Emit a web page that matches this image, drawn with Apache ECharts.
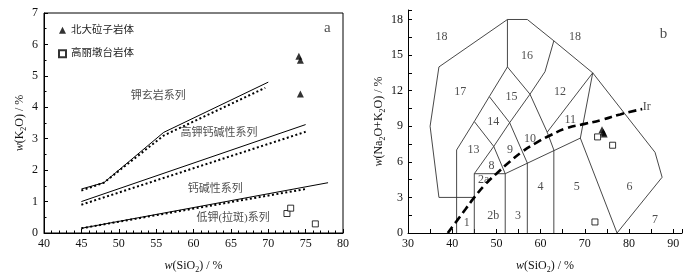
<!DOCTYPE html>
<html>
<head>
<meta charset="utf-8">
<script src="https://cdn.jsdelivr.net/npm/echarts@6/dist/echarts.min.js"></script>
<style>
  html, body { margin: 0; padding: 0; background: #fff; }
  #chart { width: 700px; height: 279px; }
</style>
</head>
<body>
<div id="chart"></div>
<script>
/* ---------- data: a  K2O - SiO2 ---------- */
var triK2O = [[74.1, 5.62], [74.3, 5.5], [74.3, 4.42]];
var sqK2O = [[72.5, 0.62], [73.0, 0.79], [76.3, 0.29]];

var shoSolid = [[45, 1.4], [48, 1.6], [56, 3.2], [70, 4.8]];
var shoDot = [[45, 1.35], [48, 1.6], [56, 3.1], [69.6, 4.62]];
var hkSolid = [[45, 1.0], [75, 3.45]];
var hkDot = [[45, 0.9], [75, 3.22]];
var caSolid = [[45, 0.15], [78, 1.6]];
var caDot = [[45, 0.15], [75, 1.4]];

var labelsA = [
    [55.3, 4.35, '钾玄岩系列'],
    [63.4, 3.17, '高钾钙碱性系列'],
    [62.9, 1.4, '钙碱性系列'],
    [65.3, 0.47, '低钾(拉斑)系列'],
    [77.9, 6.52, 'a']
];

/* ---------- data: b  TAS ---------- */
var triTAS = [[73.9, 8.7], [74.2, 8.5], [74.4, 8.35]];
var sqTAS = [[72.3, 0.93], [72.9, 8.1], [76.3, 7.4]];

var tasLines = [
    [[37, 3], [35, 9], [37, 14], [52.5, 18], [57, 18], [63, 16.2], [71.8, 13.5], [85.9, 6.8], [87.5, 4.7], [77.3, 0]],
    [[37, 3], [45, 3]],
    [[41, 0], [41, 7], [45, 9.4], [48.4, 11.5], [52.5, 14], [52.5, 18]],
    [[45, 0], [45, 5], [52, 5], [52, 0]],
    [[45, 5], [49.4, 7.3], [53, 9.3], [57.6, 11.7], [61, 13.6], [63, 16.2]],
    [[45, 9.4], [49.4, 7.3], [52, 5]],
    [[48.4, 11.5], [53, 9.3], [57, 5.9]],
    [[52.5, 14], [57.6, 11.7], [61.5, 8.5], [63, 7]],
    [[57, 0], [57, 5.9]],
    [[63, 0], [63, 7]],
    [[52, 5], [69, 8], [71.8, 13.5]],
    [[61.5, 8.5], [71.8, 13.5]],
    [[69, 8], [77.3, 0]]
];

var irLine = [[39, 0], [41, 1.0], [43, 2.0], [45, 3.0], [47.5, 4.1], [50, 5.0], [53, 6.0], [56, 6.9],
    [59, 7.6], [62, 8.2], [66, 8.85], [70, 9.2], [74, 9.55], [78, 10.0], [83, 10.45]];

var labelsB = [
    [37.6, 16.5, '18'], [67.8, 16.5, '18'], [56.9, 14.9, '16'], [41.8, 11.9, '17'],
    [53.4, 11.5, '15'], [64.4, 11.9, '12'], [49.3, 9.4, '14'], [66.7, 9.5, '11'],
    [44.8, 7.0, '13'], [48.9, 5.67, '8'], [53.1, 7.0, '9'], [57.6, 7.95, '10'],
    [47.1, 4.44, '2a'], [49.3, 1.42, '2b'], [43.3, 0.88, '1'], [54.9, 1.42, '3'],
    [60.0, 3.9, '4'], [68.2, 3.9, '5'], [80.1, 3.9, '6'], [85.9, 1.15, '7'],
    [84.0, 10.6, 'Ir'], [87.8, 16.8, 'b']
];

var nameTri = '北大砬子岩体';
var nameSq = '高丽墩台岩体';

var FONT = '"Liberation Serif", "Noto Sans CJK SC", serif';
var nameRich = {
    i: { fontStyle: 'italic', fontSize: 12, lineHeight: 16, fontFamily: FONT },
    s: { fontSize: 8, lineHeight: 10, verticalAlign: 'bottom', fontFamily: FONT }
};

function lineSeries(data, x, dotted) {
    return {
        type: 'line',
        xAxisIndex: x,
        yAxisIndex: x,
        data: data,
        showSymbol: false,
        silent: true,
        animation: false,
        lineStyle: dotted ? { color: '#000', width: 2, type: [2, 2.5] } : { color: '#000', width: 1 }
    };
}

function textSeries(data, x, size) {
    return {
        type: 'scatter',
        xAxisIndex: x,
        yAxisIndex: x,
        data: data,
        symbolSize: 0,
        silent: true,
        label: {
            show: true,
            position: 'inside',
            color: '#222',
            fontSize: size,
            fontFamily: FONT,
            formatter: function (p) { return p.data[2]; }
        }
    };
}

function axisBase() {
    return {
        axisLine: { lineStyle: { color: '#000', width: 1 } },
        axisTick: { inside: true, length: 4, lineStyle: { color: '#000' } },
        minorTick: { show: true, length: 2.5, lineStyle: { color: '#000' } },
        splitLine: { show: false },
        axisLabel: { color: '#111', fontSize: 12, fontFamily: FONT },
        nameTextStyle: { color: '#111', fontSize: 12, lineHeight: 16, fontFamily: FONT, rich: nameRich }
    };
}

var xA = Object.assign(axisBase(), {
    gridIndex: 0, type: 'value', min: 40, max: 80, interval: 5,
    name: '{i|w}(SiO{s|2}) / %', nameLocation: 'middle', nameGap: 25
});
xA.minorTick.splitNumber = 5;
xA.axisLabel.margin = 5;

var yA = Object.assign(axisBase(), {
    gridIndex: 0, type: 'value', min: 0, max: 7, interval: 1,
    name: '{i|w}(K{s|2}O) / %', nameLocation: 'middle', nameGap: 16
});
yA.minorTick.splitNumber = 2;
yA.axisLabel.margin = 6;

var xB = Object.assign(axisBase(), {
    gridIndex: 1, type: 'value', min: 30, max: 92, interval: 5,
    name: '{i|w}(SiO{s|2}) / %', nameLocation: 'middle', nameGap: 25
});
xB.minorTick.show = false;
xB.axisLabel.margin = 5;
xB.axisLabel.formatter = function (v) { return v % 10 === 0 ? v : ''; };

var yB = Object.assign(axisBase(), {
    gridIndex: 1, type: 'value', min: 0, max: 18.8, interval: 1.5,
    name: '{i|w}(Na{s|2}O+K{s|2}O) / %', nameLocation: 'middle', nameGap: 18
});
yB.minorTick.show = false;
yB.axisLabel.margin = 5;
yB.axisLabel.formatter = function (v) { return Math.abs(v % 3) < 1e-6 ? v : ''; };

var series = [
    lineSeries(shoSolid, 0, false), lineSeries(shoDot, 0, true),
    lineSeries(hkSolid, 0, false), lineSeries(hkDot, 0, true),
    lineSeries(caSolid, 0, false), lineSeries(caDot, 0, true),
    textSeries(labelsA.slice(0, 4), 0, 11),
    textSeries(labelsA.slice(4), 0, 15)
];

tasLines.forEach(function (l) {
    var s = lineSeries(l, 1, false);
    s.lineStyle = { color: '#333', width: 0.9 };
    series.push(s);
});

var ir = lineSeries(irLine, 1, false);
ir.smooth = true;
ir.lineStyle = { color: '#000', width: 2.6, type: [8, 4.5] };
series.push(ir);

series.push(textSeries(labelsB.slice(0, 20), 1, 12));
series.push(textSeries(labelsB.slice(20, 21), 1, 12));
series.push(textSeries(labelsB.slice(21), 1, 15));

/* points, both diagrams */
[[triK2O, 0], [triTAS, 1]].forEach(function (p) {
    series.push({
        name: nameTri, type: 'scatter', xAxisIndex: p[1], yAxisIndex: p[1],
        data: p[0], symbol: 'triangle', symbolSize: 7,
        itemStyle: { color: '#000' }
    });
});
[[sqK2O, 0], [sqTAS, 1]].forEach(function (p) {
    series.push({
        name: nameSq, type: 'scatter', xAxisIndex: p[1], yAxisIndex: p[1],
        data: p[0], symbol: 'rect', symbolSize: 6,
        itemStyle: { color: '#fff', borderColor: '#000', borderWidth: 1 }
    });
});

var chart = echarts.init(document.getElementById('chart'));

var option = {
    animation: false,
    backgroundColor: '#fff',
    grid: [
        { left: 44, right: 357, top: 13, bottom: 41, show: true, borderColor: '#000', borderWidth: 1, backgroundColor: 'transparent' },
        { left: 408, right: 18, top: 10, bottom: 40 }
    ],
    legend: {
        left: 58, top: 25, padding: 0, orient: 'vertical', itemWidth: 7, itemHeight: 7, itemGap: 13,
        textStyle: { fontSize: 10.5, color: '#222', fontFamily: FONT },
        data: [
            { name: nameTri, icon: 'triangle' },
            { name: nameSq, icon: 'rect' }
        ]
    },
    xAxis: [xA, xB],
    yAxis: [yA, yB],
    series: series
};

chart.setOption(option);
</script>
</body>
</html>
